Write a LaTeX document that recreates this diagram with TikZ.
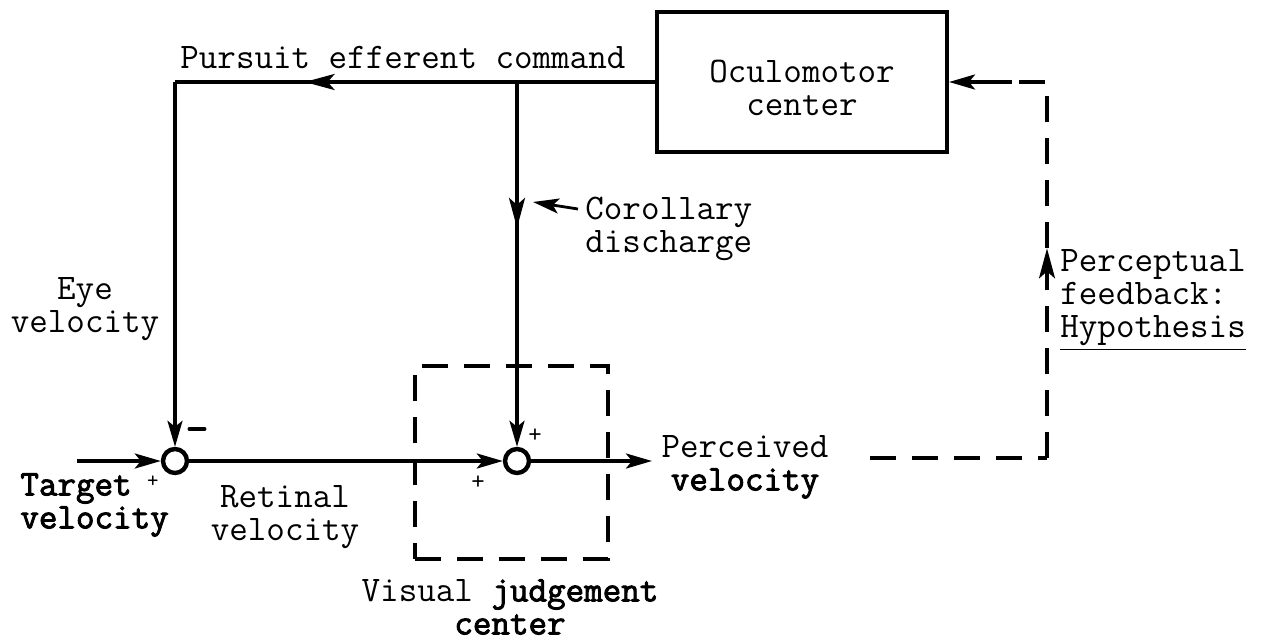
\documentclass[tikz,border=0pt]{standalone}
\usepackage{fontspec}
\setmainfont{Latin Modern Mono}[BoldFont={Latin Modern Mono}, BoldFeatures={FakeBold=2.5}]
\usetikzlibrary{arrows.meta,decorations.markings}
\begin{document}
\begin{tikzpicture}[x=0.5pt,y=-0.5pt]
\tikzset{
 ln/.style={line width=1.7pt},
 sumnode/.style={circle, draw, line width=2.2pt, minimum size=12pt, inner sep=0pt},
 lbl/.style={inner sep=0pt, align=center, font=\fontsize{18}{16.5}\selectfont},
 arr/.style={-{Stealth[length=13pt,width=7.5pt,inset=3pt]}},
 midarr/.style={postaction={decorate}, decoration={markings, mark=at position #1 with {\arrow{Stealth[length=15pt,width=8pt,inset=3.5pt]}}}},
 dsh/.style={dash pattern=on 13pt off 8pt},
}
\useasboundingbox[fill=white] (0,0) rectangle (1262,642);

% main block
\node[draw, line width=2pt, minimum width=145pt, minimum height=70pt, inner sep=0pt] (oc) at (802,82) {};
\node[lbl] (octxt) at (802,88) {Oculomotor\\center};

% junctions
\node[sumnode] (s1) at (175,461) {};
\node[sumnode] (s2) at (517,461) {};

% dashed judgement box
\node[draw, ln, dsh, minimum width=96.5pt, minimum height=96.5pt, inner sep=0pt] (vj) at (511.5,462.5) {};

% coordinates
\coordinate (tl) at (175,82);
\coordinate (cd) at (517,82);
\coordinate (tin) at (77,461);
\coordinate (pout) at (652,461);
\coordinate (f0) at (870,458);
\coordinate (f1) at (1047,458);
\coordinate (f2) at (1047,82);
\coordinate (f3) at (1012,82);
\coordinate (ptail) at (578,209);
\coordinate (ptip) at (533,202);

% connectors
\draw[ln, midarr=0.73] (oc.west) -- (tl);
\draw[ln, arr] (tl) -- (s1.north);
\draw[ln, arr, midarr=0.4] (cd) -- (s2.north);
\draw[ln, arr] (tin) -- (s1.west);
\draw[ln, arr] (s1.east) -- (s2.west);
\draw[ln, arr] (s2.east) -- (pout);
\draw[line width=1.4pt, arr] (ptail) -- (ptip);
\draw[ln, dsh] (f0) -- (f1);
\draw[ln, dsh, midarr=0.51] (f1) -- (f2) -- (f3);
\draw[ln, arr] (f3) -- (oc.east);

% labels
\node[lbl, anchor=west] (pec) at (180,58) {Pursuit efferent command};
\node[lbl, align=left, anchor=west] (cor) at (585,229) {Corollary\\discharge};
\node[lbl] (eye) at (85,309) {Eye\\velocity};
\node[lbl, align=left, anchor=west] (tgt) at (20,505) {\textbf{Target}\\\textbf{velocity}};
\node[lbl, font=\fontsize{11}{11}\selectfont] (tplus) at (153,482) {+};
\node[lbl] (ret) at (285,517) {Retinal\\velocity};
\node[lbl, font=\fontsize{22}{22}\selectfont\bfseries] (minus) at (197,435) {-};
\node[lbl, font=\fontsize{13}{13}\selectfont] (p1) at (535,436) {+};
\node[lbl, font=\fontsize{13}{13}\selectfont] (p2) at (478,483) {+};
\node[lbl] (pv) at (745,467) {Perceived\\\textbf{velocity}};
\node[lbl] (vjc) at (510,607) {Visual \textbf{judgement}\\\textbf{center}};
\node[lbl, align=left, anchor=west] (pf) at (1060,300) {Perceptual\\feedback:\\\underline{Hypothesis}};
\end{tikzpicture}
\end{document}
